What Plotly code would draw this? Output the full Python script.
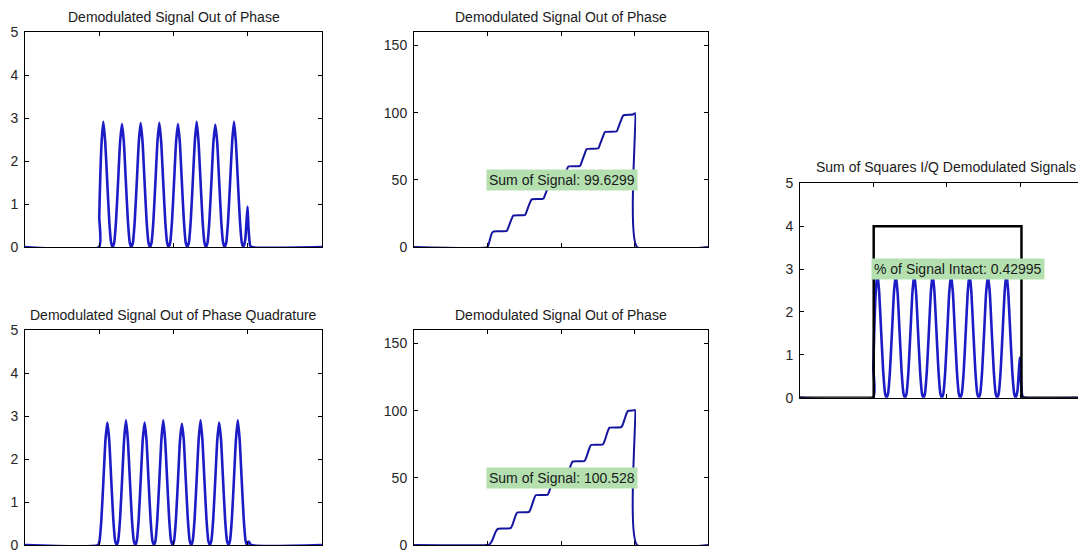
import plotly.graph_objects as go

# The page body has an 8px default margin, so the figure is drawn 8px in
# from the top-left corner of the 1086x553 window.
OFF = 8
WF, HF = 1086 - OFF, 553 - OFF

# ---------------- data ----------------
# In-phase demodulated signal (top-left, also blue trace in right panel)
i_x = [0, 0.998, 1.0, 1.015, 1.032, 1.055, 1.08, 1.105, 1.135, 1.16, 1.18,
       1.201, 1.226, 1.256, 1.281, 1.306, 1.331, 1.356, 1.386, 1.411, 1.432,
       1.453, 1.478, 1.508, 1.533, 1.558, 1.583, 1.608, 1.638, 1.663, 1.683,
       1.704, 1.729, 1.759, 1.784, 1.809, 1.834, 1.859, 1.889, 1.914, 1.935,
       1.955, 1.98, 2.01, 2.035, 2.06, 2.085, 2.11, 2.14, 2.165, 2.186,
       2.207, 2.232, 2.262, 2.287, 2.312, 2.337, 2.362, 2.392, 2.417, 2.437,
       2.458, 2.483, 2.513, 2.538, 2.563, 2.588, 2.613, 2.643, 2.668, 2.689,
       2.71, 2.735, 2.765, 2.79, 2.815, 2.84, 2.865, 2.895, 2.92, 2.94,
       2.965, 2.98, 2.997, 3.01, 3.03, 3.05, 4.0]
i_y = [0, 0, 0.7, 1.7, 2.45, 2.91, 2.45, 1.6, 0.6, 0.1, 0,
       0.1, 0.6, 1.6, 2.45, 2.86, 2.45, 1.6, 0.6, 0.1, 0,
       0.1, 0.6, 1.6, 2.45, 2.88, 2.45, 1.6, 0.6, 0.1, 0,
       0.1, 0.6, 1.6, 2.45, 2.89, 2.45, 1.6, 0.6, 0.1, 0,
       0.1, 0.6, 1.6, 2.45, 2.86, 2.45, 1.6, 0.6, 0.1, 0,
       0.1, 0.6, 1.6, 2.45, 2.91, 2.45, 1.6, 0.6, 0.1, 0,
       0.1, 0.6, 1.6, 2.45, 2.84, 2.45, 1.6, 0.6, 0.1, 0,
       0.1, 0.6, 1.6, 2.45, 2.91, 2.45, 1.6, 0.6, 0.1, 0,
       0.15, 0.5, 0.94, 0.45, 0.05, 0, 0]

# Quadrature demodulated signal (bottom-left)
q_x = [0, 0.984, 1.004, 1.029, 1.059, 1.084, 1.109, 1.134, 1.159, 1.189, 1.214, 1.235,
       1.255, 1.28, 1.31, 1.335, 1.36, 1.385, 1.41, 1.44, 1.465, 1.486,
       1.506, 1.531, 1.561, 1.586, 1.611, 1.636, 1.661, 1.691, 1.716, 1.737,
       1.757, 1.782, 1.812, 1.837, 1.862, 1.887, 1.912, 1.942, 1.967, 1.988,
       2.008, 2.033, 2.063, 2.088, 2.113, 2.138, 2.163, 2.193, 2.218, 2.239,
       2.259, 2.284, 2.314, 2.339, 2.364, 2.389, 2.414, 2.444, 2.469, 2.49,
       2.51, 2.535, 2.565, 2.59, 2.615, 2.64, 2.665, 2.695, 2.72, 2.741,
       2.761, 2.786, 2.816, 2.841, 2.866, 2.891, 2.916, 2.946, 2.971, 2.99,
       3.015, 3.045, 4.0]
q_y = [0, 0, 0.1, 0.6, 1.6, 2.45, 2.85, 2.45, 1.6, 0.6, 0.1, 0,
       0.1, 0.6, 1.6, 2.45, 2.9, 2.45, 1.6, 0.6, 0.1, 0,
       0.1, 0.6, 1.6, 2.45, 2.85, 2.45, 1.6, 0.6, 0.1, 0,
       0.1, 0.6, 1.6, 2.45, 2.9, 2.45, 1.6, 0.6, 0.1, 0,
       0.1, 0.6, 1.6, 2.45, 2.82, 2.45, 1.6, 0.6, 0.1, 0,
       0.1, 0.6, 1.6, 2.45, 2.9, 2.45, 1.6, 0.6, 0.1, 0,
       0.1, 0.6, 1.6, 2.45, 2.85, 2.45, 1.6, 0.6, 0.1, 0,
       0.1, 0.6, 1.6, 2.45, 2.9, 2.45, 1.6, 0.6, 0.1, 0,
       0.08, 0, 0]

# Running sum of in-phase signal (top-middle)
si_x = [0, 1.0, 1.015, 1.035, 1.055, 1.079, 1.261,
        1.283, 1.306, 1.329, 1.351, 1.51,
        1.533, 1.555, 1.578, 1.601, 1.759,
        1.782, 1.805, 1.828, 1.85, 2.01,
        2.033, 2.055, 2.078, 2.1, 2.259,
        2.282, 2.305, 2.328, 2.35, 2.508,
        2.531, 2.554, 2.577, 2.599, 2.758,
        2.781, 2.803, 2.826, 2.848, 2.98, 3.007, 3.035, 4.0]
si_y = [0, 0, 2, 6, 9.8, 11.5, 11.9,
        14.5, 17.8, 21.0, 23.3, 23.8,
        26.5, 29.8, 33.0, 35.4, 35.9,
        38.6, 41.9, 45.2, 47.6, 48.1,
        50.8, 54.1, 57.4, 59.9, 60.4,
        63.3, 66.8, 70.3, 72.9, 73.5,
        76.5, 79.8, 83.1, 85.6, 86.1,
        89.1, 92.3, 95.5, 98.0, 98.6, 99.6, 0, 0]

# Running sum of quadrature signal (bottom-middle)
sq_x = [0, 1.0, 1.03, 1.065, 1.09, 1.115, 1.143, 1.315,
        1.338, 1.36, 1.382, 1.405, 1.566,
        1.589, 1.611, 1.633, 1.656, 1.817,
        1.84, 1.862, 1.884, 1.907, 2.068,
        2.091, 2.113, 2.135, 2.158, 2.319,
        2.342, 2.364, 2.386, 2.409, 2.57,
        2.593, 2.615, 2.637, 2.66, 2.821,
        2.844, 2.866, 2.888, 2.911, 2.99, 3.007, 3.035, 4.0]
sq_y = [0, 0, 0.5, 3.5, 7.0, 10.3, 12.1, 12.5,
        14.8, 18.3, 21.8, 24.2, 24.7,
        27.2, 30.8, 34.4, 37.0, 37.4,
        39.9, 43.5, 47.0, 49.6, 50.0,
        52.4, 56.0, 59.6, 62.1, 62.5,
        64.8, 68.4, 72.0, 74.4, 74.8,
        77.4, 81.1, 84.8, 87.3, 87.7,
        90.1, 93.8, 97.4, 99.8, 100.2, 100.5, 0, 0]

# Ideal envelope (black) in the right panel
env_x = [0, 1.005, 1.005, 3.02, 3.02, 3.9]
env_y = [0, 0, 4, 4, 0, 0]

titles = ["Demodulated Signal Out of Phase",
          "Demodulated Signal Out of Phase",
          "Demodulated Signal Out of Phase Quadrature",
          "Demodulated Signal Out of Phase",
          "Sum of Squares I/Q Demodulated Signals"]
labels = ["Sum of Signal: 99.6299",
          "Sum of Signal: 100.528",
          "% of Signal Intact: 0.42995"]
ticks_small = [0, 1, 2, 3, 4, 5]
ticks_big = [0, 50, 100, 150]
x_ticks = [1, 2, 3]

# ---------------- styling ----------------
FONT = "Liberation Sans, Arial, sans-serif"
BLUE = "#1c1cc6"
DBLUE = "#14149e"
GREEN = "#b4e0b0"


def px_x(p):
    """page pixel x -> paper fraction"""
    return (p - OFF) / WF


def px_y(p):
    """page pixel y (from top) -> paper fraction"""
    return 1 - (p - OFF) / HF


fig = go.Figure()

# panel boxes in page pixels: (left, right, top, bottom)
boxes = {
    1: (25, 322, 32, 247),
    2: (414, 708, 32, 247),
    3: (25, 322, 330, 545),
    4: (414, 708, 330, 545),
    5: (800, 1086, 183.3, 397.7),
}

sig_line = dict(color=BLUE, width=2.6, shape="spline", smoothing=0.5)
sum_line = dict(color=DBLUE, width=2, shape="spline", smoothing=0.5)

fig.add_trace(go.Scatter(x=i_x, y=i_y, mode="lines", xaxis="x", yaxis="y", line=sig_line))
fig.add_trace(go.Scatter(x=si_x, y=si_y, mode="lines", xaxis="x2", yaxis="y2", line=sum_line))
fig.add_trace(go.Scatter(x=q_x, y=q_y, mode="lines", xaxis="x3", yaxis="y3", line=sig_line))
fig.add_trace(go.Scatter(x=sq_x, y=sq_y, mode="lines", xaxis="x4", yaxis="y4", line=sum_line))
fig.add_trace(go.Scatter(x=i_x, y=i_y, mode="lines", xaxis="x5", yaxis="y5", line=sig_line))
fig.add_trace(go.Scatter(x=env_x, y=env_y, mode="lines", xaxis="x5", yaxis="y5",
                         line=dict(color="#000000", width=2.5)))

axis_common = dict(showgrid=False, zeroline=False, showline=True, linecolor="#000000",
                   linewidth=1, ticks="inside", ticklen=4, tickcolor="#000000",
                   automargin=False,
                   tickfont=dict(family=FONT, size=14, color="#262626"))

layout = dict(width=WF, height=HF, margin=dict(l=0, r=0, t=0, b=0, autoexpand=False),
              paper_bgcolor="white", plot_bgcolor="white", showlegend=False,
              font=dict(family=FONT, size=14, color="#1a1a1a"))

for k, (l, r, t, b) in boxes.items():
    sx = "" if k == 1 else str(k)
    big = k in (2, 4)
    xr = [0, 3.9] if k == 5 else [0, 4]
    layout["xaxis" + sx] = dict(axis_common, domain=[px_x(l), min(1.0, px_x(r))], range=xr,
                                tickvals=x_ticks, showticklabels=False, mirror="ticks",
                                anchor="y" + sx)
    layout["yaxis" + sx] = dict(axis_common, domain=[px_y(b), px_y(t)],
                                range=[0, 160] if big else [0, 5],
                                tickvals=ticks_big if big else ticks_small,
                                mirror=False if k == 5 else "ticks",
                                anchor="x" + sx, ticklabelstandoff=3)

fig.update_layout(**layout)

# titles
title_pos = [(173.5, 16.7), (561, 16.7), (173.5, 315), (561, 315), (946, 166.7)]
for txt, (cx, cy) in zip(titles, title_pos):
    fig.add_annotation(text=txt, x=px_x(cx), y=px_y(cy), xref="paper", yref="paper",
                       xanchor="center", yanchor="middle", showarrow=False,
                       font=dict(family=FONT, size=14, color="#1a1a1a"))

# green value labels
label_spec = [("x2", "y2", 1.0, 50), ("x4", "y4", 1.0, 50), ("x5", "y5", 1.0, 3.0)]
for txt, (xr_, yr_, xv, yv) in zip(labels, label_spec):
    fig.add_annotation(text=txt, x=xv, y=yv, xref=xr_, yref=yr_, xanchor="left",
                       yanchor="middle", showarrow=False, bgcolor=GREEN, borderpad=2,
                       xshift=-2, font=dict(family=FONT, size=14, color="#1a1a1a"))

fig.write_html("out.html")
